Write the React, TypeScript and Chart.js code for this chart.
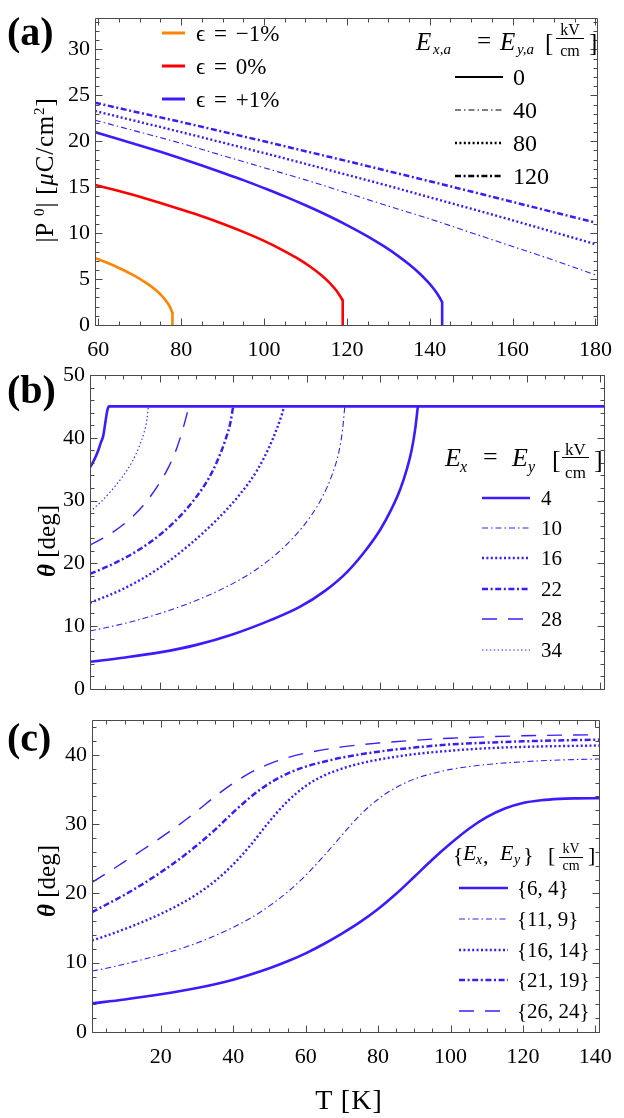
import React, { useEffect, useRef } from 'react';
import { Chart, registerables } from 'chart.js';

Chart.register(...registerables);

const FONT = "'Liberation Serif', 'Times New Roman', serif";
const BLUE = 'rgb(60,28,255)';
const ORANGE = 'rgb(255,132,0)';
const RED = 'rgb(255,0,0)';

// ---------------- panel (a): |P0| vs T ----------------
const aTicksX = [60, 80, 100, 120, 140, 160, 180];
const aTicksY = [0, 5, 10, 15, 20, 25, 30];
const aOrangeT = [59.2, 62, 65, 68, 70, 72, 74, 75.5, 76.5, 77.3, 77.9];
const aOrangeP = [7.3, 6.8, 6.21, 5.54, 5.03, 4.45, 3.75, 3.1, 2.54, 1.96, 1.3];
const aOrangeDropT = [77.9, 77.9];
const aOrangeDropP = [1.3, 0];
const aRedT = [59.2, 65, 70, 75, 80, 85, 90, 95, 100, 104, 108, 111, 114, 116, 117.5, 119];
const aRedP = [15.25, 14.59, 13.96, 13.29, 12.58, 11.84, 11.03, 10.14, 9.16, 8.27, 7.27, 6.39, 5.36, 4.51, 3.73, 2.7];
const aRedDropT = [119, 119];
const aRedDropP = [2.7, 0];
const aBlueT = [59.2, 65, 70, 75, 80, 85, 90, 95, 100, 105, 110, 115, 120, 125, 129, 132, 135, 137.5, 139.5, 141, 142.2, 143];
const aBlueP = [21.0, 20.23, 19.55, 18.85, 18.13, 17.37, 16.58, 15.77, 14.9, 14.0, 13.03, 12.0, 10.88, 9.65, 8.55, 7.64, 6.61, 5.63, 4.71, 3.91, 3.13, 2.5];
const aBlueDropT = [143, 143];
const aBlueDropP = [2.5, 0];
const aFieldT = [59.2, 70, 80, 90, 100, 110, 120, 130, 140, 150, 160, 170, 180];
const aE40P = [22.3, 21.0, 19.78, 18.45, 17.12, 15.8, 14.38, 12.95, 11.55, 10.05, 8.55, 7.05, 5.45];
const aE80P = [23.3, 22.1, 21.0, 19.86, 18.72, 17.55, 16.35, 15.15, 13.9, 12.66, 11.4, 10.1, 8.8];
const aE120P = [24.2, 23.1, 22.1, 21.05, 20.0, 18.92, 17.85, 16.75, 15.65, 14.53, 13.4, 12.27, 11.15];
const aStrainLabels = ['ϵ = −1%', 'ϵ = 0%', 'ϵ = +1%'];
const aFieldLabels = ['0', '40', '80', '120'];

// ---------------- panel (b): theta vs T, Ex = Ey ----------------
const bTicksX = [20, 40, 60, 80, 100, 120, 140];
const bTicksY = [0, 10, 20, 30, 40, 50];
const bTopT = [1, 2, 3, 4, 4.6, 5.2, 5.7, 6.2, 141];
const bTopTheta = [35.3, 36.3, 37.6, 39.3, 40.3, 42.5, 44.3, 45, 45];
const bE4T = [1, 10, 20, 30, 40, 50, 58, 65, 71, 76, 80, 83, 85.5, 87.3, 88.6, 89.6, 90.3];
const bE4Theta = [4.3, 4.95, 5.8, 7.0, 8.7, 10.9, 13.0, 15.6, 18.6, 22.0, 25.3, 28.5, 31.8, 35.0, 38.0, 41.5, 45];
const bE10T = [1, 11, 20, 29, 38, 46, 52, 57, 61, 64.5, 67, 68.8, 69.8, 70.4];
const bE10Theta = [9.2, 10.5, 12.0, 13.85, 16.2, 18.9, 21.6, 24.5, 27.4, 30.8, 34.2, 37.8, 41.3, 45];
const bE16T = [1, 10, 19, 28, 36, 42, 46.5, 49.8, 52, 53.2, 53.9];
const bE16Theta = [13.7, 15.9, 18.9, 22.9, 27.2, 31.1, 34.8, 38.5, 41.6, 43.6, 45];
const bE22T = [1, 8, 15, 21, 26, 30, 33.3, 35.9, 37.9, 39.2, 40];
const bE22Theta = [18.3, 20.1, 22.4, 25.0, 27.8, 30.6, 33.5, 36.6, 39.7, 42.3, 45];
const bE28T = [1, 6, 11, 15.5, 19.3, 22.3, 24.6, 26.3, 27.5, 27.9];
const bE28Theta = [22.9, 24.5, 26.6, 29.2, 32.2, 35.2, 38.3, 41.4, 44.0, 45];
const bE34T = [1, 4, 7, 10, 12.5, 14.4, 15.7, 16.5, 16.9];
const bE34Theta = [28.2, 29.8, 31.7, 33.9, 36.2, 38.6, 40.8, 42.9, 45];
const bFieldLabels = ['4', '10', '16', '22', '28', '34'];

// ---------------- panel (c): theta vs T, {Ex, Ey} ----------------
const cTicksX = [20, 40, 60, 80, 100, 120, 140];
const cTicksY = [0, 10, 20, 30, 40];
const cE64T = [1, 10, 20, 30, 40, 50, 55, 60, 65, 70, 75, 80, 85, 90, 95, 100, 105, 110, 115, 120, 125, 130, 135, 141];
const cE64Theta = [4.13, 4.7, 5.45, 6.35, 7.55, 9.2, 10.2, 11.35, 12.7, 14.2, 15.85, 17.75, 19.95, 22.4, 24.9, 27.2, 29.3, 31.0, 32.25, 33.05, 33.45, 33.65, 33.72, 33.75];
const cE119T = [1, 5, 10, 15, 20, 25, 30, 35, 40, 45, 50, 55, 60, 65, 70, 75, 80, 85, 90, 95, 100, 110, 120, 130, 141];
const cE119Theta = [8.8, 9.2, 9.8, 10.45, 11.15, 11.95, 12.85, 13.9, 15.1, 16.5, 18.2, 20.2, 22.6, 25.4, 28.4, 31.3, 33.6, 35.3, 36.5, 37.3, 37.9, 38.6, 39.0, 39.25, 39.4];
const cE1614T = [1, 5, 10, 15, 20, 25, 30, 35, 40, 45, 50, 55, 60, 65, 70, 75, 80, 90, 100, 110, 120, 141];
const cE1614Theta = [13.2, 13.9, 14.85, 15.9, 17.05, 18.35, 19.9, 21.8, 24.2, 27.1, 30.4, 33.3, 35.5, 37.0, 38.0, 38.75, 39.3, 40.1, 40.6, 40.95, 41.15, 41.35];
const cE2119T = [1, 5, 10, 15, 20, 25, 30, 35, 40, 45, 50, 55, 60, 65, 70, 80, 90, 100, 120, 141];
const cE2119Theta = [17.3, 18.4, 19.8, 21.35, 23.05, 24.9, 26.95, 29.2, 31.7, 34.0, 35.9, 37.3, 38.3, 39.0, 39.6, 40.45, 41.05, 41.5, 41.95, 42.2];
const cE2624T = [1, 5, 10, 15, 20, 25, 30, 35, 40, 45, 50, 55, 60, 70, 80, 90, 100, 120, 141];
const cE2624Theta = [21.6, 22.9, 24.6, 26.3, 28.05, 29.9, 31.9, 34.0, 35.9, 37.5, 38.7, 39.6, 40.25, 41.15, 41.7, 42.1, 42.4, 42.75, 42.9];
const cFieldLabels = ['{6, 4}', '{11, 9}', '{16, 14}', '{21, 19}', '{26, 24}'];

// ---------------- line styles ----------------
const STY: Record<string, { w: number; d: number[] }> = {
  solid: { w: 2.6, d: [] },
  dashDotThin: { w: 1.1, d: [6, 3, 1.5, 3] },
  dotted: { w: 2.4, d: [2, 2.4] },
  dashDot: { w: 2.5, d: [6, 2.6, 2, 2.6] },
  dashed: { w: 1.4, d: [15, 11] },
  dottedThin: { w: 1.1, d: [1.5, 2.4] },
};

const range = (a: number, b: number, s: number) => {
  const out: number[] = [];
  for (let v = a; v <= b + 1e-9; v += s) out.push(v);
  return out;
};

const ln = (T: number[], V: number[], color: string, sty: { w: number; d: number[] }, smooth = true) => ({
  data: T.map((t, i) => ({ x: t, y: V[i] })),
  borderColor: color,
  borderWidth: sty.w,
  borderDash: sty.d,
  pointRadius: 0,
  fill: false,
  tension: 0,
  cubicInterpolationMode: smooth ? 'monotone' : 'default',
  borderCapStyle: 'butt',
  borderJoinStyle: 'round',
});

function framePlugin(xMajor: number[], xMinor: number[], yMajor: number[], yMinor: number[]) {
  return {
    id: 'frameTicks',
    afterDatasetsDraw(chart: any) {
      const { ctx, chartArea: a } = chart;
      const xs = chart.scales.x;
      const ys = chart.scales.y;
      ctx.save();
      ctx.strokeStyle = '#4a4a4a';
      ctx.lineWidth = 1;
      ctx.setLineDash([]);
      const L = Math.round(a.left) + 0.5;
      const R = Math.round(a.right) + 0.5;
      const Tp = Math.round(a.top) + 0.5;
      const B = Math.round(a.bottom) + 0.5;
      ctx.beginPath();
      ctx.rect(L, Tp, R - L, B - Tp);
      const xt = (vals: number[], len: number) => {
        vals.forEach((v) => {
          const p = Math.round(xs.getPixelForValue(v)) + 0.5;
          if (p < L || p > R) return;
          ctx.moveTo(p, B); ctx.lineTo(p, B - len);
          ctx.moveTo(p, Tp); ctx.lineTo(p, Tp + len);
        });
      };
      const yt = (vals: number[], len: number) => {
        vals.forEach((v) => {
          const p = Math.round(ys.getPixelForValue(v)) + 0.5;
          if (p < Tp || p > B) return;
          ctx.moveTo(L, p); ctx.lineTo(L + len, p);
          ctx.moveTo(R, p); ctx.lineTo(R - len, p);
        });
      };
      xt(xMinor, 4); xt(xMajor, 7); yt(yMinor, 4); yt(yMajor, 7);
      ctx.stroke();
      ctx.restore();
    },
  };
}

type Sample = { x1: number; x2: number; y: number; color: string; sty: { w: number; d: number[] } };
function samplesPlugin(items: Sample[]) {
  return {
    id: 'samples',
    afterDraw(chart: any) {
      const ctx = chart.ctx;
      items.forEach((it) => {
        ctx.save();
        ctx.strokeStyle = it.color;
        ctx.lineWidth = it.sty.w;
        ctx.setLineDash(it.sty.d);
        ctx.lineCap = 'butt';
        ctx.beginPath();
        ctx.moveTo(it.x1, it.y);
        ctx.lineTo(it.x2, it.y);
        ctx.stroke();
        ctx.restore();
      });
    },
  };
}

function options(p: any) {
  return {
    responsive: false,
    animation: false,
    devicePixelRatio: 1,
    events: [],
    layout: { padding: { top: p.padTop, right: p.padRight, left: 0, bottom: 0 } },
    plugins: { legend: { display: false }, tooltip: { enabled: false } },
    scales: {
      x: {
        type: 'linear',
        min: p.xMin,
        max: p.xMax,
        afterBuildTicks: (s: any) => { s.ticks = p.xTicks.map((v: number) => ({ value: v })); },
        afterFit: (s: any) => { s.height = p.xH; },
        grid: { display: false, drawTicks: false },
        border: { display: false },
        ticks: { display: p.xLabels, color: '#000', font: { family: FONT, size: 22 }, padding: 12, maxRotation: 0, autoSkip: false },
      },
      y: {
        type: 'linear',
        min: p.yMin,
        max: p.yMax,
        afterBuildTicks: (s: any) => { s.ticks = p.yTicks.map((v: number) => ({ value: v })); },
        afterFit: (s: any) => { s.width = p.yW; },
        grid: { display: false, drawTicks: false },
        border: { display: false },
        ticks: { color: '#000', font: { family: FONT, size: 22 }, padding: 5, autoSkip: false },
      },
    },
  };
}

const Txt = ({ x, y, size, children, style }: any) => (
  <div style={{ position: 'absolute', left: x, top: y - size / 2, fontSize: size, lineHeight: `${size}px`, whiteSpace: 'nowrap', fontFamily: FONT, color: '#000', ...style }}>{children}</div>
);

const Rot = ({ x, y, size, children, style }: any) => (
  <div style={{ position: 'absolute', left: x, top: y, transform: 'translate(-50%,-50%) rotate(-90deg)', fontSize: size, lineHeight: `${size}px`, whiteSpace: 'nowrap', fontFamily: FONT, color: '#000', ...style }}>{children}</div>
);

const Frac = ({ x, yTop, yBar, yBot, w, size }: any) => (
  <>
    <Txt x={x} y={yTop} size={size} style={{ width: w, textAlign: 'center' }}>kV</Txt>
    <div style={{ position: 'absolute', left: x, top: yBar, width: w, height: 1, background: '#000' }} />
    <Txt x={x} y={yBot} size={size} style={{ width: w, textAlign: 'center' }}>cm</Txt>
  </>
);

export default function App() {
  const refA = useRef<HTMLCanvasElement>(null);
  const refB = useRef<HTMLCanvasElement>(null);
  const refC = useRef<HTMLCanvasElement>(null);

  const topA = 0, topB = 340, topC = 702;

  useEffect(() => {
    const charts: Chart[] = [];
    charts.push(new Chart(refA.current as HTMLCanvasElement, {
      type: 'line',
      data: {
        datasets: [
          ln(aOrangeT, aOrangeP, ORANGE, STY.solid),
          ln(aOrangeDropT, aOrangeDropP, ORANGE, STY.solid, false),
          ln(aRedT, aRedP, RED, STY.solid),
          ln(aRedDropT, aRedDropP, RED, STY.solid, false),
          ln(aBlueT, aBlueP, BLUE, STY.solid),
          ln(aBlueDropT, aBlueDropP, BLUE, STY.solid, false),
          ln(aFieldT, aE40P, BLUE, STY.dashDotThin),
          ln(aFieldT, aE80P, BLUE, STY.dotted),
          ln(aFieldT, aE120P, BLUE, STY.dashDot),
        ] as any,
      },
      options: options({ padTop: 13, padRight: 24, xMin: 59.2, xMax: 180.3, yMin: 0, yMax: 33.4, xTicks: aTicksX, yTicks: aTicksY, xH: 47, yW: 95, xLabels: true }) as any,
      plugins: [
        framePlugin(aTicksX, range(60, 180, 5), aTicksY, range(0, 33, 1)),
        samplesPlugin([
          { x1: 162, x2: 185, y: 33 - topA, color: ORANGE, sty: { w: 3, d: [] } },
          { x1: 162, x2: 185, y: 66 - topA, color: RED, sty: { w: 3, d: [] } },
          { x1: 162, x2: 185, y: 99 - topA, color: BLUE, sty: { w: 3, d: [] } },
          { x1: 455, x2: 503, y: 77 - topA, color: '#000', sty: { w: 2, d: [] } },
          { x1: 455, x2: 503, y: 110 - topA, color: '#000', sty: STY.dashDotThin },
          { x1: 455, x2: 503, y: 143 - topA, color: '#000', sty: STY.dotted },
          { x1: 455, x2: 503, y: 176 - topA, color: '#000', sty: STY.dashDot },
        ]),
      ] as any,
    }));
    charts.push(new Chart(refB.current as HTMLCanvasElement, {
      type: 'line',
      data: {
        datasets: [
          ln(bTopT, bTopTheta, BLUE, STY.solid),
          ln(bE4T, bE4Theta, BLUE, STY.solid),
          ln(bE10T, bE10Theta, BLUE, STY.dashDotThin),
          ln(bE16T, bE16Theta, BLUE, STY.dotted),
          ln(bE22T, bE22Theta, BLUE, STY.dashDot),
          ln(bE28T, bE28Theta, BLUE, STY.dashed),
          ln(bE34T, bE34Theta, BLUE, STY.dottedThin),
        ] as any,
      },
      options: options({ padTop: 35, padRight: 20, xMin: 1, xMax: 141, yMin: 0, yMax: 50, xTicks: bTicksX, yTicks: bTicksY, xH: 14, yW: 90, xLabels: false }) as any,
      plugins: [
        framePlugin(bTicksX, range(5, 140, 5), bTicksY, range(0, 50, 2)),
        samplesPlugin([498, 528, 558, 589, 619, 650].map((y, i) => ({
          x1: 482, x2: 530, y: y - topB, color: BLUE,
          sty: [STY.solid, STY.dashDotThin, STY.dotted, STY.dashDot, STY.dashed, STY.dottedThin][i],
        }))),
      ] as any,
    }));
    charts.push(new Chart(refC.current as HTMLCanvasElement, {
      type: 'line',
      data: {
        datasets: [
          ln(cE64T, cE64Theta, BLUE, STY.solid),
          ln(cE119T, cE119Theta, BLUE, STY.dashDotThin),
          ln(cE1614T, cE1614Theta, BLUE, STY.dotted),
          ln(cE2119T, cE2119Theta, BLUE, STY.dashDot),
          ln(cE2624T, cE2624Theta, BLUE, STY.dashed),
        ] as any,
      },
      options: options({ padTop: 14, padRight: 19, xMin: 1, xMax: 141, yMin: 0, yMax: 45, xTicks: cTicksX, yTicks: cTicksY, xH: 86, yW: 92, xLabels: true }) as any,
      plugins: [
        framePlugin(cTicksX, range(5, 140, 5), cTicksY, range(0, 44, 2)),
        samplesPlugin([888, 919, 950, 980, 1011].map((y, i) => ({
          x1: 459, x2: 508, y: y - topC, color: BLUE,
          sty: [STY.solid, STY.dashDotThin, STY.dotted, STY.dashDot, STY.dashed][i],
        }))),
      ] as any,
    }));
    return () => charts.forEach((c) => c.destroy());
  }, []);

  const cv = (top: number, h: number) => ({ position: 'absolute' as const, left: 0, top, width: 624, height: h, display: 'block' });

  return (
    <div style={{ position: 'absolute', left: 0, top: 0, width: 624, height: 1118, background: '#fff', overflow: 'hidden', fontFamily: FONT }}>
      <canvas ref={refA} width={624} height={372} style={cv(topA, 372)} />
      <canvas ref={refB} width={624} height={367} style={cv(topB, 367)} />
      <canvas ref={refC} width={624} height={416} style={cv(topC, 416)} />

      {/* panel letters */}
      <Txt x={7} y={32} size={40} style={{ fontWeight: 'bold' }}>(a)</Txt>
      <Txt x={7} y={390} size={40} style={{ fontWeight: 'bold' }}>(b)</Txt>
      <Txt x={7} y={738} size={40} style={{ fontWeight: 'bold' }}>(c)</Txt>

      {/* axis titles */}
      <Rot x={42} y={170} size={25} style={{ letterSpacing: 0.8 }}>|P <sup style={{ fontSize: 15 }}>0</sup>| [<i>μ</i>C/cm<sup style={{ fontSize: 15 }}>2</sup>]</Rot>
      <Rot x={46} y={541} size={25}><b><i>θ</i></b> [deg]</Rot>
      <Rot x={46} y={881} size={25}><b><i>θ</i></b> [deg]</Rot>
      <Txt x={349} y={1100} size={28} style={{ transform: 'translateX(-50%)', letterSpacing: 1 }}>T [K]</Txt>

      {/* (a) strain legend */}
      {aStrainLabels.map((s, i) => (
        <Txt key={s} x={196} y={33 + i * 33} size={23} style={{ wordSpacing: 3 }}>{s}</Txt>
      ))}
      {/* (a) field legend */}
      <Txt x={416} y={41} size={25}><i>E</i></Txt>
      <Txt x={433} y={49} size={15}><i>x,a</i></Txt>
      <Txt x={477} y={40} size={25}>=</Txt>
      <Txt x={500} y={41} size={25}><i>E</i></Txt>
      <Txt x={517} y={49} size={15}><i>y,a</i></Txt>
      <Txt x={545} y={42} size={25}>[</Txt>
      <Frac x={556} yTop={30} yBar={38} yBot={51} w={28} size={16} />
      <Txt x={589} y={42} size={25}>]</Txt>
      {aFieldLabels.map((s, i) => (
        <Txt key={s} x={513} y={77 + i * 33} size={24}>{s}</Txt>
      ))}

      {/* (b) legend */}
      <Txt x={445} y={458} size={26}><i>E</i></Txt>
      <Txt x={460} y={467} size={16}><i>x</i></Txt>
      <Txt x={483} y={457} size={26}>=</Txt>
      <Txt x={512} y={458} size={26}><i>E</i></Txt>
      <Txt x={528} y={467} size={16}><i>y</i></Txt>
      <Txt x={552} y={460} size={26}>[</Txt>
      <Frac x={562} yTop={449} yBar={457} yBot={472} w={27} size={17} />
      <Txt x={594} y={460} size={26}>]</Txt>
      {bFieldLabels.map((s, i) => (
        <Txt key={s} x={541} y={[498, 528, 558, 589, 619, 650][i]} size={21}>{s}</Txt>
      ))}

      {/* (c) legend */}
      <Txt x={453} y={855} size={22}>{'{'}</Txt>
      <Txt x={463} y={853} size={22}><i>E</i></Txt>
      <Txt x={476} y={860} size={14}><i>x</i></Txt>
      <Txt x={483} y={856} size={22}>,</Txt>
      <Txt x={500} y={853} size={22}><i>E</i></Txt>
      <Txt x={514} y={860} size={14}><i>y</i></Txt>
      <Txt x={523} y={855} size={22}>{'}'}</Txt>
      <Txt x={548} y={855} size={22}>[</Txt>
      <Frac x={559} yTop={849} yBar={857} yBot={866} w={24} size={14} />
      <Txt x={588} y={855} size={22}>]</Txt>
      {cFieldLabels.map((s, i) => (
        <Txt key={s} x={517} y={[888, 919, 950, 980, 1011][i]} size={21}>{s}</Txt>
      ))}
    </div>
  );
}
